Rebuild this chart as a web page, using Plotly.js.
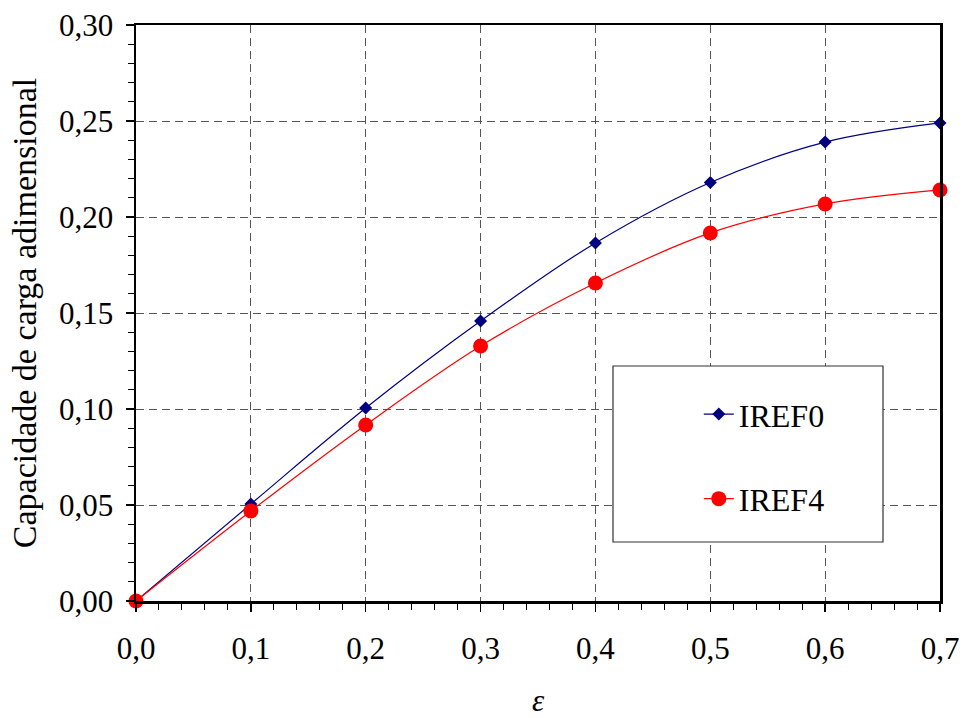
<!DOCTYPE html>
<html>
<head>
<meta charset="utf-8">
<script src="https://cdn.plot.ly/plotly-3.0.1.min.js"></script>
<style>html,body{margin:0;padding:0;background:#fff;}#chart{width:965px;height:718px;}</style>
</head>
<body>
<div id="chart"></div>
<script>
const epsilon = [0.0, 0.1, 0.2, 0.3, 0.4, 0.5, 0.6, 0.7];
const iref0 = [0.0, 0.0505, 0.1005, 0.1458, 0.1865, 0.2180, 0.2390, 0.2490];
const iref4 = [0.0, 0.0469, 0.0917, 0.1328, 0.1656, 0.1917, 0.2068, 0.2141];
const seriesNames = ['IREF0', 'IREF4'];

const FONT = '"Liberation Serif", "Times New Roman", Times, serif';

const traces = [
  {
    x: epsilon, y: iref0, name: seriesNames[0], type: 'scatter', mode: 'lines+markers',
    line: {color: '#000080', width: 1.2, shape: 'spline', smoothing: 1},
    marker: {symbol: 'diamond', size: 10, color: '#000080'},
    cliponaxis: false, legendgroup: 'a'
  },
  {
    x: epsilon, y: iref4, name: seriesNames[1], type: 'scatter', mode: 'lines+markers',
    line: {color: '#ff0000', width: 1.2, shape: 'spline', smoothing: 1},
    marker: {symbol: 'circle', size: 15, color: '#ff0000'},
    cliponaxis: false, legendgroup: 'b'
  }
];

const layout = {
  width: 965, height: 718,
  margin: {l: 136, r: 25, t: 25, b: 117},
  paper_bgcolor: '#ffffff', plot_bgcolor: '#ffffff',
  separators: ',.',
  font: {family: FONT, size: 31, color: '#000'},
  showlegend: true,
  legend: {
    x: 0.7, y: 0.372, xanchor: 'left', yanchor: 'top',
    bgcolor: 'rgba(0,0,0,0)', borderwidth: 0,
    font: {family: FONT, size: 32, color: '#000'},
    tracegroupgap: 40, traceorder: 'grouped'
  },
  xaxis: {
    range: [0, 0.7], dtick: 0.1, tick0: 0, tickformat: '.1f',
    showline: true, linecolor: '#000', linewidth: 2.5, mirror: true,
    ticks: 'outside', ticklen: 8, tickwidth: 1.5, tickcolor: '#000',
    ticklabelstandoff: 10,
    showgrid: true, gridcolor: '#555', gridwidth: 1, griddash: '8px,5px',
    zeroline: false,
    minor: {dtick: 0.02, ticks: 'outside', ticklen: 6, tickwidth: 1, tickcolor: '#000', showgrid: false},
    title: {text: '<i>ε</i>', font: {family: FONT, size: 31, color: '#000'}, standoff: 28},
    tickfont: {family: FONT, size: 31, color: '#000'}
  },
  yaxis: {
    range: [0, 0.30], dtick: 0.05, tick0: 0, tickformat: '.2f',
    showline: true, linecolor: '#000', linewidth: 2.5, mirror: true,
    ticks: 'outside', ticklen: 8, tickwidth: 1.5, tickcolor: '#000',
    ticklabelstandoff: 6,
    showgrid: true, gridcolor: '#555', gridwidth: 1, griddash: '8px,5px',
    zeroline: false,
    minor: {dtick: 0.01, ticks: 'outside', ticklen: 6, tickwidth: 1, tickcolor: '#000', showgrid: false},
    title: {text: 'Capacidade de carga adimensional', font: {family: FONT, size: 34, color: '#000'}, standoff: 12},
    tickfont: {family: FONT, size: 31, color: '#000'}
  },
  shapes: [
    {type: 'rect', xref: 'paper', yref: 'paper',
     x0: (613 - 136) / 804, x1: (883 - 136) / 804,
     y0: (601 - 542) / 576, y1: (601 - 366) / 576,
     line: {color: '#333', width: 1.2}, fillcolor: '#ffffff', layer: 'above'}
  ]
};

Plotly.newPlot('chart', traces, layout, {displayModeBar: false, staticPlot: true});
</script>
</body>
</html>
